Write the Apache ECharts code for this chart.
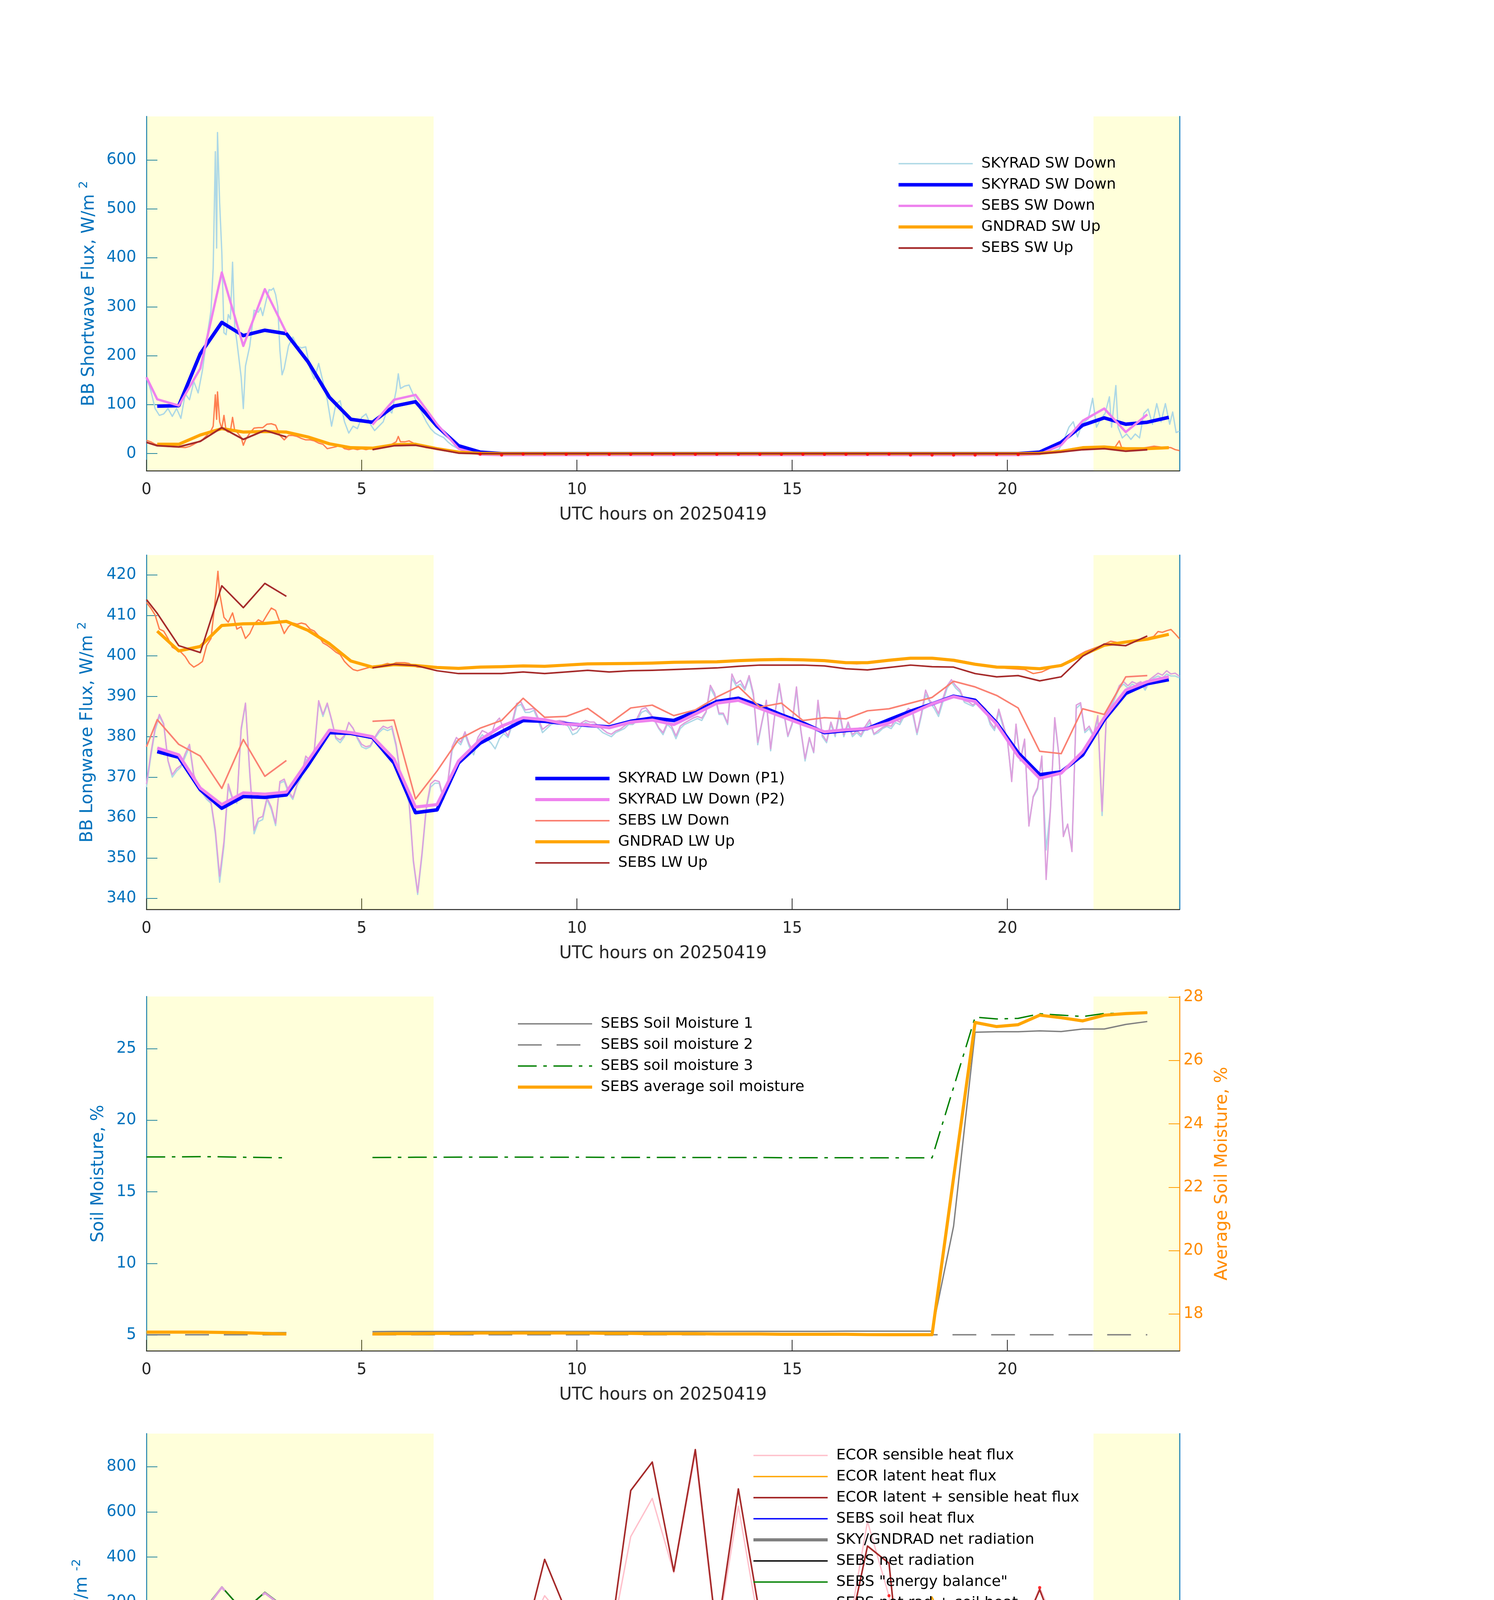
<!DOCTYPE html>
<html><head><meta charset="utf-8">
<script src="https://cdn.jsdelivr.net/npm/echarts@6/dist/echarts.min.js"></script>
<style>html,body{margin:0;padding:0;background:#fff}#c{width:3825px;height:4875px}</style>
</head><body><div id="c"></div>
<script>
// ---------------- DATA ----------------
const X_TICKS = [0, 5, 10, 15, 20];
const SW_TICKS = [0, 100, 200, 300, 400, 500, 600];
const LW_TICKS = [340, 350, 360, 370, 380, 390, 400, 410, 420];
const SM_TICKS = [5, 10, 15, 20, 25];
const SMAVG_TICKS = [18, 20, 22, 24, 26, 28];
const FLUX_TICKS = [-600, -400, -200, 0, 200, 400, 600, 800];
const SHADE = [[0, 6.67], [22.0, 24]];

const T30 = Array.from({length: 48}, (_, i) => 0.25 + 0.5 * i);
const SEBS_T = [0,0.25,0.75,1.25,1.75,2.25,2.75,3.25,4.25,5.25,5.75,6.25,6.75,7.25,7.75,8.25,8.75,9.25,9.75,10.25,10.75,11.25,11.75,12.25,12.75,13.25,13.75,14.25,14.75,15.25,15.75,16.25,16.75,17.25,17.75,18.25,18.75,19.25,19.75,20.25,20.75,21.25,21.75,22.25,22.75,23.25];
const ECOR_T = [0,0.75,1.25,1.75,2.25,2.75,3.25,4.75,6.25,6.75,7.25,7.75,8.25,8.75,9.25,9.75,10.25,10.75,11.25,11.75,12.25,12.75,13.25,13.75,14.25,14.75,15.25,15.75,16.25,16.75,17.25,17.75,18.25,18.75,19.25,19.75,20.25,20.75,21.25,21.75,22.25,22.75,23.25];

const SKY_SW_1MIN = [[0,156],[0.1,129],[0.2,92],[0.3,78],[0.4,81],[0.5,92],[0.6,76],[0.7,92],[0.8,72],[0.9,122],[1.0,110],[1.1,147],[1.2,124],[1.3,170],[1.4,234],[1.5,293],[1.55,380],[1.6,617],[1.63,420],[1.65,656],[1.7,512],[1.75,412],[1.8,247],[1.85,243],[1.9,284],[1.95,275],[2.0,391],[2.05,261],[2.1,229],[2.2,156],[2.25,92],[2.3,179],[2.4,220],[2.5,293],[2.6,289],[2.65,298],[2.7,282],[2.8,320],[2.85,335],[2.9,334],[2.95,338],[3.0,325],[3.05,300],[3.1,211],[3.15,161],[3.2,174],[3.3,220],[3.4,238],[3.5,220],[3.6,216],[3.7,218],[3.8,174],[3.9,152],[4.0,184],[4.1,147],[4.2,110],[4.3,56],[4.4,101],[4.5,108],[4.6,65],[4.7,42],[4.8,56],[4.9,51],[5.0,74],[5.1,81],[5.2,60],[5.3,47],[5.4,56],[5.5,65],[5.6,92],[5.7,83],[5.8,129],[5.85,163],[5.9,133],[6.0,138],[6.1,140],[6.2,120],[6.3,101],[6.4,83],[6.5,65],[6.6,51],[6.7,42],[6.8,37],[6.9,33],[7.0,24],[7.1,17],[7.2,12],[7.4,6],[7.6,2],[7.8,0.5],[8.0,0],[12,0],[16,0],[20.5,0],[20.8,1],[21.0,3],[21.2,9],[21.3,25],[21.43,54],[21.53,65],[21.63,34],[21.73,60],[21.88,71],[21.98,113],[22.07,54],[22.17,71],[22.27,82],[22.37,116],[22.42,54],[22.52,139],[22.57,54],[22.67,32],[22.77,40],[22.87,29],[22.97,40],[23.07,32],[23.17,82],[23.27,91],[23.37,60],[23.47,102],[23.57,65],[23.67,102],[23.77,60],[23.84,85],[23.92,43],[24.0,46]];
const GND_SW_1MIN = [[0,27],[0.1,24],[0.2,19],[0.3,17],[0.5,14.6],[0.7,13.7],[0.9,12.3],[1.0,14.6],[1.1,19],[1.2,24],[1.3,28],[1.4,37],[1.5,47],[1.55,56],[1.6,120],[1.63,70],[1.65,126],[1.7,65],[1.75,51],[1.8,78],[1.85,47],[1.9,44],[1.95,46],[2.0,74],[2.05,47],[2.1,44],[2.2,33],[2.25,17],[2.3,28],[2.4,42],[2.5,52],[2.6,53],[2.7,53],[2.8,60],[2.9,61],[3.0,58],[3.1,37],[3.2,28],[3.3,37],[3.4,37],[3.5,35],[3.6,31],[3.7,28],[3.8,28],[3.9,26],[4.0,21.5],[4.1,19],[4.2,10],[4.3,12],[4.4,14],[4.5,17],[4.6,10],[4.7,8],[4.8,10],[4.9,8],[5.0,10],[5.1,8],[5.2,10],[5.3,10],[5.4,12],[5.5,14.6],[5.6,17],[5.7,19],[5.8,24],[5.85,35],[5.9,24],[6.0,24],[6.1,26],[6.2,21.5],[6.3,17],[6.5,12],[6.7,10],[7.0,6.4],[7.3,3.7],[7.6,1.8],[8.0,0.3],[12,0],[16,0],[20.5,0],[21.0,2],[21.3,6],[21.5,10],[21.7,12],[21.9,13],[22.1,12],[22.3,14],[22.5,13],[22.6,26],[22.65,13],[22.8,8],[23.0,10],[23.2,12],[23.4,15],[23.6,13],[23.8,12],[23.9,8],[24,6]];
const SKY_SW_30 = [97,98,204,268,241,252,245,188,115,70,64,97,106,56,16,3, 0,0,0,0,0,0,0,0,0,0,0,0,0,0,0,0,0,0,0,0,0,0,0,0,0, 3,23,58,73,60,64,74];
const SEBS_SW_DOWN = [156,111,98,174,370,220,336,247,null, 59,110,120,60,10,-2, -3,-3,-3,-3,-3,-3,-3,-3,-3,-3,-3,-3,-3,-3,-3,-3,-3,-3,-3,-3,-3,-3,-3,-3,-3, -1,17.5,67,92,44,80];
const GND_SW_30 = [19,19,38,51,44,45,44,34,20,12,11,18,19,10,3,0.5, 0,0,0,0,0,0,0,0,0,0,0,0,0,0,0,0,0,0,0,0,0,0,0,0,0, 0.5,4.5,12,13.5,10,10,12];
const SEBS_SW_UP = [23,16,13.7,25,53,29,47.5,34,null, 8,16,17,9,1,0, 0,0,0,0,0,0,0,0,0,0,0,0,0,0,0,0,0,0,0,0,0,0,0,0,0, 0,3.4,8,10,5,8];
const SW_FLAG_DOTS = [[7.75,-1],[8.25,-3],[8.75,-1],[9.25,-1],[9.75,-1.5],[10.25,-2],[10.75,-1.5],[11.25,-1.5],[11.75,-1.5],[12.25,-1.5],[12.75,-1.5],[13.25,-1.5],[13.75,-1.5],[14.25,-1.5],[14.75,-1.5],[15.25,-1.5],[15.75,-1.5],[16.25,-1.5],[16.75,-1.5],[17.25,-1],[17.75,-3],[18.25,-3],[18.75,-3],[19.25,-3],[19.75,-2],[20.25,-2]];

const LW_1MIN_T0 = 0, LW_1MIN_STEP = 0.1;
const LW_P2_1MIN = [
368.3,375.8,382.1,385.5,383.2,374.1,370.6,372.1,372.9,375.8,
378.1,370.6,367.8,366.1,364.9,363.8,356.9,345.5,354.1,368.3,
364.9,363.8,382.1,388.3,371.2,356.9,359.8,360.3,364.9,362.6,
358.6,368.9,369.5,366.6,364.9,368.3,370.6,375.2,374.1,376.9,
388.9,385.5,388.3,384.3,379.8,379.2,380.3,383.5,382.1,379.8,
378.1,377.5,377.8,379.8,381.5,382.6,382.1,382.6,378.1,370.6,
368.3,364.3,349.5,341.5,351.2,362.6,368.3,369.2,368.9,364.9,
368.9,377.5,379.8,378.6,381.2,378.1,376.3,379.8,381.5,381.0,
380.2,383.4,384.6,381.8,380.2,383.8,388.2,388.6,386.6,386.8,
387.0,384.6,381.8,382.6,383.4,383.8,384.0,383.8,383.4,381.6,
382.0,383.4,384.0,383.6,383.6,382.6,381.8,381.0,380.6,381.4,
381.8,382.6,383.4,383.2,384.6,386.8,387.2,385.8,384.2,382.2,
381.0,383.4,382.6,380.2,382.6,383.4,384.0,384.6,385.0,384.6,
386.2,392.7,390.7,385.8,385.8,383.4,395.5,393.1,393.9,391.9,
395.1,390.7,378.6,383.8,389.0,377.0,385.8,393.1,386.6,380.2,
383.4,392.3,381.8,374.6,379.8,376.2,389.0,380.5,378.9,383.6,
380.5,386.3,380.5,383.6,380.5,381.5,380.5,382.6,384.2,380.7,
381.5,382.3,382.8,382.6,384.2,383.6,385.7,387.0,386.3,381.0,
385.7,391.5,388.9,387.8,385.7,389.4,392.6,394.1,392.6,391.5,
388.9,388.6,387.8,388.9,387.8,386.8,383.6,382.1,386.8,383.1,
379.4,368.9,383.1,374.2,379.4,357.9,365.2,367.4,375.2,344.7,
362.1,384.7,375.2,355.3,358.4,351.6,387.8,388.4,381.5,382.6,
380.5,385.2,361.6,385.7,387.8,390.0,392.6,393.6,392.6,393.6,
393.1,393.6,392.1,394.1,394.9,395.7,395.2,396.3,395.5,395.7,
394.9];
const LW_P1_1MIN = [
367.5,375.0,381.5,385.0,383.0,374.0,370.0,371.5,372.5,375.0,
377.5,370.0,367.5,366.0,364.5,363.5,356.0,344.0,353.0,367.5,
364.5,363.5,381.5,388.0,370.5,356.0,359.0,359.5,364.5,362.0,
358.0,368.5,369.0,366.0,364.5,368.0,370.0,374.5,373.5,376.5,
388.5,385.0,388.0,384.0,379.5,378.5,380.0,383.5,382.0,379.5,
377.5,377.0,377.5,379.5,381.0,382.0,381.5,382.0,377.5,370.0,
367.5,363.5,349.0,341.0,350.5,362.0,367.5,368.5,368.5,364.5,
368.5,376.5,379.0,378.0,380.5,377.5,375.5,379.0,380.5,379.5,
378.5,377.0,379.5,380.8,379.8,383.0,387.5,388.0,386.0,386.0,
386.5,384.0,381.0,382.0,383.0,383.5,383.5,383.5,382.5,380.5,
381.0,382.5,383.5,383.0,383.0,382.0,381.0,380.5,380.0,381.0,
381.5,382.0,383.0,383.0,384.0,386.0,386.5,385.5,384.0,382.0,
380.5,383.0,382.0,379.5,382.0,383.0,383.5,384.0,384.5,384.0,
386.0,392.0,390.0,385.5,385.5,383.0,394.5,392.5,393.0,391.5,
394.5,390.0,378.0,383.5,388.5,376.5,385.5,392.5,386.0,380.0,
383.0,391.5,381.5,374.0,379.5,376.0,388.0,380.0,378.5,383.0,
380.0,385.5,380.0,383.0,380.0,381.0,380.0,382.0,383.5,380.5,
381.0,382.0,382.5,382.0,383.5,383.0,385.0,386.5,385.5,380.5,
385.0,390.5,388.5,387.0,385.0,388.5,392.0,393.5,392.0,391.0,
388.5,388.0,387.5,388.5,387.5,386.5,383.0,381.5,386.0,382.5,
379.0,369.5,382.5,374.0,379.0,358.5,365.0,367.0,374.5,352.0,
362.0,384.0,375.0,356.0,358.0,352.5,387.0,388.0,381.0,382.0,
380.0,384.5,360.5,385.0,387.0,389.5,392.0,393.0,392.0,393.0,
392.5,393.0,391.5,393.5,394.5,395.0,394.5,395.5,395.0,395.0,
394.5];
const GND_LW_1MIN = [[0,413.2],[0.1,411.8],[0.2,410.1],[0.3,406.6],[0.4,406.1],[0.5,404.3],[0.6,402.1],[0.7,401.5],[0.8,400.9],[0.9,399.8],[1.0,398.1],[1.1,397.2],[1.2,397.8],[1.3,398.6],[1.4,402.6],[1.5,404.3],[1.6,414.1],[1.66,420.9],[1.7,415.5],[1.8,409.5],[1.9,408.3],[2.0,410.6],[2.1,406.6],[2.2,407.2],[2.3,404.3],[2.4,405.5],[2.5,407.8],[2.6,408.9],[2.7,408.3],[2.8,410.1],[2.9,411.8],[3.0,411.2],[3.1,408.3],[3.2,405.5],[3.3,407.2],[3.4,408.1],[3.5,407.8],[3.6,408.1],[3.7,407.8],[3.8,406.6],[3.9,406.1],[4.0,404.9],[4.1,403.2],[4.2,402.6],[4.3,401.8],[4.4,400.9],[4.5,400.3],[4.6,398.6],[4.7,397.5],[4.8,396.6],[4.9,396.3],[5.0,396.6],[5.1,396.9],[5.2,397.2],[5.3,397.5],[5.4,397.5],[5.5,397.8],[5.6,398.1],[5.7,397.8],[5.8,398.3],[5.9,398.3],[6.0,398.3],[6.1,398.1],[6.2,397.5],[6.3,397.2],[6.5,397.2],[7.0,397.0],[7.5,396.9],[8.0,397.2],[8.5,397.4],[9.0,397.4],[9.5,397.6],[10.0,397.9],[10.5,398.0],[11.0,398.1],[11.5,398.2],[12.0,398.3],[12.5,398.4],[13.0,398.5],[13.5,398.7],[14.0,398.9],[14.5,399.2],[15.0,399.2],[15.5,398.9],[16.0,398.4],[16.5,398.0],[17.0,398.5],[17.5,399.2],[18.0,399.6],[18.5,399.3],[19.0,398.6],[19.5,397.4],[20.0,396.9],[20.4,396.6],[20.6,395.6],[20.8,396.0],[21.0,397.0],[21.2,397.4],[21.4,398.4],[21.6,399.8],[21.8,401.0],[22.0,401.8],[22.2,402.6],[22.4,403.6],[22.6,403.2],[22.8,403.4],[23.0,403.6],[23.2,404.2],[23.4,404.8],[23.5,406.0],[23.6,405.8],[23.7,406.2],[23.8,406.5],[23.9,405.4],[24.0,404.2]];
const SKY_LW_P1_30 = [376.3,374.9,366.9,362.3,365.2,365.0,365.6,372.9,381.0,380.8,379.8,373.5,361.2,361.9,373.5,378.4,381.2,384.0,383.8,383.2,382.8,382.4,383.8,384.6,384.0,386.2,388.7,389.5,387.6,385.4,383.4,381.0,381.5,382.0,384.2,386.3,388.1,390.0,389.0,383.4,376.0,370.6,371.3,375.5,384.2,390.7,393.1,394.1];
const SKY_LW_P2_30 = [377.2,375.5,367.3,363.2,366.1,365.8,366.3,374.0,381.6,381.0,380.0,374.5,362.6,363.2,374.0,379.2,382.6,384.7,384.2,383.1,382.9,382.2,383.6,384.1,383.0,385.6,388.3,389.0,387.0,385.0,383.0,381.2,381.7,382.0,383.4,385.7,388.1,389.9,388.7,383.1,375.2,369.7,371.0,376.3,384.7,391.5,393.6,394.8];
const SEBS_LW_DOWN = [377.5,384.2,378.1,375.2,367.2,379.3,370.2,374.1,null,383.8,384.1,364.6,371.5,379.3,382.1,384.0,389.5,384.8,385.0,387.0,383.2,387.1,387.8,385.2,386.6,389.8,392.4,387.3,388.3,384.0,384.7,384.4,386.4,386.9,388.3,389.7,393.7,392.3,390.2,387.1,376.4,375.8,386.9,385.5,394.8,395.1];
const GND_LW_30 = [406.1,401.2,402.3,407.5,407.9,408.0,408.5,406.3,403.0,398.7,397.2,397.8,397.6,397.1,396.9,397.2,397.3,397.5,397.4,397.7,398.0,398.05,398.1,398.2,398.4,398.45,398.5,398.8,399.0,399.1,399.0,398.8,398.3,398.3,398.9,399.4,399.4,398.9,397.9,397.2,397.1,396.8,397.6,400.2,402.6,403.4,404.1,405.3];
const SEBS_LW_UP = [413.9,410.5,402.5,400.8,417.3,411.9,417.9,414.7,null,397.0,397.9,397.6,396.3,395.6,395.6,395.6,396.0,395.6,396.0,396.4,396.0,396.3,396.4,396.6,396.8,397.0,397.4,397.7,397.7,397.7,397.5,396.8,396.5,397.1,397.7,397.3,397.2,395.6,394.8,395.1,393.8,394.8,399.9,402.9,402.5,404.9];

const SM1 = [5.17,5.17,5.17,5.17,5.17,5.17,5.17,5.17,null,5.24,5.25,5.25,5.25,5.25,5.25,5.25,5.26,5.26,5.26,5.26,5.26,5.26,5.26,5.26,5.26,5.26,5.26,5.26,5.26,5.26,5.26,5.27,5.27,5.27,5.27,5.27,12.6,26.15,26.19,26.19,26.25,26.2,26.38,26.38,26.7,26.9];
const SM2 = [5.02,5.02,5.02,5.02,5.02,5.02,5.02,5.02,null,5.02,5.02,5.02,5.02,5.02,5.02,5.02,5.02,5.02,5.02,5.02,5.02,5.02,5.02,5.02,5.02,5.02,5.02,5.02,5.02,5.02,5.02,5.02,5.02,5.02,5.02,5.02,5.02,5.02,5.02,5.02,5.02,5.02,5.02,5.02,5.02,5.02];
const SM3 = [17.44,17.44,17.45,17.46,17.45,17.42,17.40,17.38,null,17.40,17.41,17.42,17.42,17.43,17.43,17.43,17.43,17.42,17.42,17.42,17.41,17.41,17.41,17.41,17.40,17.40,17.40,17.40,17.39,17.39,17.39,17.39,17.38,17.38,17.38,17.38,22.3,27.21,27.08,27.12,27.44,27.35,27.25,27.46,27.48,27.52];
const SM_AVG = [17.43,17.43,17.43,17.43,17.42,17.41,17.39,17.37,null,17.37,17.38,17.38,17.39,17.39,17.40,17.40,17.40,17.40,17.40,17.40,17.39,17.39,17.38,17.38,17.38,17.37,17.37,17.37,17.36,17.36,17.36,17.36,17.35,17.35,17.35,17.35,22.3,27.2,27.07,27.13,27.43,27.35,27.25,27.43,27.48,27.51];

const ECOR_H = [28,16,16,98,83,120,89,null,2,0,-2,-8,-6,28,229,113,34,-8,491,660,331,860,39,625,74,-232,9,18,10,558,227,-494,-30,-83,-21,-27,28,265,40,10,8,6,6];
const ECOR_LE = [34,22,104,46,32,29,16,null,46,15,2,0,10,-15,166,46,24,24,207,165,6,18,13,77,67,-2,40,10,-12,-112,146,-57,223,13,13,32,10,-8,-43,7,26,20,22];
const ECOR_SUM = [65,38,117,141,111,144,99,null,48,15,-2,-6,4,12,390,159,52,6,695,821,337,876,52,702,141,-234,49,28,-2,449,373,-551,193,-70,-8,3,34,256,4,12,34,24,26];
const SEBS_G = [-2,-2,-2,-2,-2,-3,-3,-3,null,-279,1,1,1,1,1,1,1,1,1,1,1,1,1,1,1,1,1,1,1,1,1,1,1,1,1,1,1,1,1,1,1,1,0,0,-1,-1];
const NET_RAD_30 = [50,56,122,176,155,166,162,124,76,41.5,36.6,58.5,55,22,-8.5,-18,-16,-13,-13,-14.6,-14.6,-17,-13,-13,-13,-12,-11,-10,-12,-14,-16,-17,-16,-15,-14,-14,-13,-11,-11,-14,-20,-24,-8.5,28,44,43,46,55];
const SEBS_RN = [97.6,71,61,140,268,160,244,172,null,36.6,83,71,28,-6,-15,-14,-13,-12,-12,-13,-14,-13,-12,-12,-11,-10,-9,-10,-11,-13,-14,-13,-13,-12,-12,-11,-8,-8,-9,-13,-19,-3,46,66,40,63];
const SEBS_EB = [97,65,61,146,268,160,244,172,null,-244,83,71,28,-6,-16,-15,-14,-13,-13,-14,-15,-14,-13,-13,-12,-11,-10,-11,-12,-14,-15,-14,-14,-13,-13,-12,-9,-9,-10,-14,-20,-4,46,66,37,63];
const SEBS_RN_G = [95.6,69,59,138,266,157,241,169,null,-242,84,72,29,-5,-14,-13,-12,-11,-11,-12,-13,-12,-11,-11,-10,-9,-8,-9,-10,-12,-13,-12,-12,-11,-11,-10,-7,-7,-8,-12,-18,-2,46,66,39,62];
const FLUX_FLAG_DOTS = [[5.25,-279],[7.75,-3],[15.25,49],[15.25,9],[15.75,28],[15.75,10],[17.25,229],[17.75,-551],[17.75,-494],[17.75,-57],[20.75,265],[20.75,-8],[21.25,40],[21.25,-43],[21.75,12]];

// ---------------- CHART ----------------
const FONT = 'DejaVu Sans';
const AXBLUE = '#0072BD';
const AXORANGE = '#FF8C00';
const TXT = '#262626';
const zip = (ts, vs) => ts.map((t, i) => [t, vs[i] == null ? '-' : vs[i]]);
const grid1min = (vs) => vs.map((v, i) => [+(LW_1MIN_T0 + i * LW_1MIN_STEP).toFixed(2), v]);

const TOPS = [298, 1421, 2551, 3670];
const grids = TOPS.map(t => ({left: 375, width: 2645, top: t, height: 907, containLabel: false}));

const xAxes = TOPS.map((_, i) => ({
  type: 'value', gridIndex: i, min: 0, max: 24,
  name: 'UTC hours on 20250419', nameLocation: 'middle', nameGap: 92,
  nameTextStyle: {fontSize: 44, color: TXT, fontFamily: FONT},
  axisLine: {onZero: false, lineStyle: {color: TXT, width: 2.5}},
  axisTick: {inside: true, length: 28, customValues: X_TICKS, lineStyle: {color: TXT, width: 2}},
  axisLabel: {customValues: X_TICKS, fontSize: 40, color: TXT, margin: 30, fontFamily: FONT},
  splitLine: {show: false}
}));

function supName(main, sup) { return '{a|' + main + '}{s|' + sup + '}'; }
const nameRich = (color) => ({
  a: {fontSize: 44, lineHeight: 52, verticalAlign: 'bottom', color, fontFamily: FONT},
  s: {fontSize: 31, lineHeight: 36, verticalAlign: 'top', color, fontFamily: FONT}
});

function leftAxis(gi, min, max, ticks, name, gap, rich) {
  return {
    type: 'value', gridIndex: gi, position: 'left', min, max,
    name, nameLocation: 'middle', nameRotate: 90, nameGap: gap,
    nameTextStyle: Object.assign({fontSize: 44, color: AXBLUE, fontFamily: FONT}, rich ? {rich: nameRich(AXBLUE)} : {}),
    axisLine: {show: true, onZero: false, lineStyle: {color: AXBLUE, width: 2.5}},
    axisTick: {show: true, inside: true, length: 28, customValues: ticks, lineStyle: {color: AXBLUE, width: 2}},
    axisLabel: {customValues: ticks, fontSize: 40, color: AXBLUE, margin: 26, fontFamily: FONT},
    splitLine: {show: false}
  };
}
function rightSpine(gi, min, max) {
  return {
    type: 'value', gridIndex: gi, position: 'right', min, max,
    axisLine: {show: true, onZero: false, lineStyle: {color: AXBLUE, width: 2.5}},
    axisTick: {show: false}, axisLabel: {show: false}, splitLine: {show: false}
  };
}

const yAxes = [
  leftAxis(0, -35, 689, SW_TICKS, supName('BB Shortwave Flux, W/m ', '2'), 124, true),
  rightSpine(0, -35, 689),
  leftAxis(1, 337.3, 424.9, LW_TICKS, supName('BB Longwave Flux, W/m ', '2'), 128, true),
  rightSpine(1, 337.3, 424.9),
  leftAxis(2, 3.9, 28.65, SM_TICKS, 'Soil Moisture, %', 100, false),
  {
    type: 'value', gridIndex: 2, position: 'right', min: 16.84, max: 28.02,
    name: 'Average Soil Moisture, %', nameLocation: 'middle', nameRotate: 90, nameGap: 88,
    nameTextStyle: {fontSize: 44, color: AXORANGE, fontFamily: FONT},
    axisLine: {show: true, onZero: false, lineStyle: {color: AXORANGE, width: 2.5}},
    axisTick: {show: true, inside: true, length: 28, customValues: SMAVG_TICKS, lineStyle: {color: AXORANGE, width: 2}},
    axisLabel: {customValues: SMAVG_TICKS, fontSize: 40, color: AXORANGE, margin: 10, fontFamily: FONT},
    splitLine: {show: false}
  },
  leftAxis(3, -622, 947, FLUX_TICKS, supName('Flux, W/m ', '-2'), 142, true),
  rightSpine(3, -622, 947)
];

const WIDTHS = {};
function line(name, gi, yi, data, color, width, extra) {
  WIDTHS[name] = width;
  const s = {
    type: 'line', name, xAxisIndex: gi, yAxisIndex: yi, data,
    symbol: 'none', showSymbol: false, connectNulls: false, silent: true,
    lineStyle: {color, width, cap: 'butt', join: 'round'},
    itemStyle: {color}, z: 3, animation: false
  };
  if (extra) {
    if (extra.type) s.lineStyle.type = extra.type;
    if (extra.z) s.z = extra.z;
  }
  return s;
}
function dots(name, gi, yi, data) {
  return {type: 'scatter', name, xAxisIndex: gi, yAxisIndex: yi, data, symbol: 'circle', symbolSize: 8,
    itemStyle: {color: '#FF0000'}, z: 9, silent: true, animation: false};
}
function shade(gi, yi) {
  return {
    type: 'line', name: 'shade' + gi, xAxisIndex: gi, yAxisIndex: yi, data: [], z: 20, silent: true,
    markArea: {silent: true, itemStyle: {color: 'rgba(255,255,0,0.145)'},
      data: SHADE.map(r => [{xAxis: r[0]}, {xAxis: r[1]}])}
  };
}

const series = [
  line('SKYRAD SW Down', 0, 0, SKY_SW_1MIN, '#ADD8E6', 3.5),
  line('GNDRAD SW Up 1min', 0, 0, GND_SW_1MIN, '#FF7F50', 3.5),
  line('SKYRAD SW Down\u200b', 0, 0, zip(T30, SKY_SW_30), '#0000FF', 9),
  line('SEBS SW Down', 0, 0, zip(SEBS_T, SEBS_SW_DOWN), '#EE82EE', 6),
  line('GNDRAD SW Up', 0, 0, zip(T30, GND_SW_30), '#FFA500', 8),
  line('SEBS SW Up', 0, 0, zip(SEBS_T, SEBS_SW_UP), '#A52A2A', 4.5),
  dots('sw flags', 0, 0, SW_FLAG_DOTS),
  shade(0, 0),
  line('SKYRAD LW Down (P1) 1min', 1, 2, grid1min(LW_P1_1MIN), '#ADD8E6', 3.5),
  line('SKYRAD LW Down (P2) 1min', 1, 2, grid1min(LW_P2_1MIN), '#DDA0DD', 3.5),
  line('GNDRAD LW Up 1min', 1, 2, GND_LW_1MIN, '#FF7F50', 3.5),
  line('SKYRAD LW Down (P1)', 1, 2, zip(T30, SKY_LW_P1_30), '#0000FF', 9),
  line('SKYRAD LW Down (P2)', 1, 2, zip(T30, SKY_LW_P2_30), '#EE82EE', 8),
  line('SEBS LW Down', 1, 2, zip(SEBS_T, SEBS_LW_DOWN), '#FA8072', 4),
  line('GNDRAD LW Up', 1, 2, zip(T30, GND_LW_30), '#FFA500', 8),
  line('SEBS LW Up', 1, 2, zip(SEBS_T, SEBS_LW_UP), '#A52A2A', 4),
  shade(1, 2),
  line('SEBS Soil Moisture 1', 2, 4, zip(SEBS_T, SM1), '#808080', 3.5),
  line('SEBS soil moisture 2', 2, 4, zip(SEBS_T, SM2), '#808080', 3.5, {type: [61, 38]}),
  line('SEBS soil moisture 3', 2, 4, zip(SEBS_T, SM3), '#008000', 3.5, {type: [48, 17, 9, 17]}),
  line('SEBS average soil moisture', 2, 5, zip(SEBS_T, SM_AVG), '#FFA500', 8),
  shade(2, 4),
  line('ECOR sensible heat flux', 3, 6, zip(ECOR_T, ECOR_H), '#FFC0CB', 3.5),
  line('ECOR latent heat flux', 3, 6, zip(ECOR_T, ECOR_LE), '#FFA500', 3.5),
  line('ECOR latent + sensible heat flux', 3, 6, zip(ECOR_T, ECOR_SUM), '#A52A2A', 4),
  line('SEBS soil heat flux', 3, 6, zip(SEBS_T, SEBS_G), '#0000FF', 3.5),
  line('SKY/GNDRAD net radiation', 3, 6, zip(T30, NET_RAD_30), '#808080', 8),
  line('SEBS net radiation', 3, 6, zip(SEBS_T, SEBS_RN), '#000000', 3.5),
  line('SEBS "energy balance"', 3, 6, zip(SEBS_T, SEBS_EB), '#008000', 3.5),
  line('SEBS net rad + soil heat', 3, 6, zip(SEBS_T, SEBS_RN_G), '#DDA0DD', 5.5, {type: [62, 38]}),
  dots('flux flags', 3, 6, FLUX_FLAG_DOTS),
  shade(3, 6)
];

function legend(names, left, top) {
  return {
    data: names.map(n => ({name: n, lineStyle: {width: WIDTHS[n]}})),
    left, top, orient: 'vertical', padding: 0, itemGap: 4,
    itemWidth: 190, itemHeight: 20, selectedMode: false,
    itemStyle: {opacity: 0},
    textStyle: {fontSize: 38, color: '#000', fontFamily: FONT, lineHeight: 50, padding: [0, 0, 0, 17]},
    z: 30
  };
}

const option = {
  backgroundColor: '#ffffff',
  animation: false,
  grid: grids,
  xAxis: xAxes,
  yAxis: yAxes,
  legend: [
    legend(['SKYRAD SW Down', 'SKYRAD SW Down\u200b', 'SEBS SW Down', 'GNDRAD SW Up', 'SEBS SW Up'], 2296, 394),
    legend(['SKYRAD LW Down (P1)', 'SKYRAD LW Down (P2)', 'SEBS LW Down', 'GNDRAD LW Up', 'SEBS LW Up'], 1366, 1968),
    legend(['SEBS Soil Moisture 1', 'SEBS soil moisture 2', 'SEBS soil moisture 3', 'SEBS average soil moisture'], 1322, 2596),
    legend(['ECOR sensible heat flux', 'ECOR latent heat flux', 'ECOR latent + sensible heat flux', 'SEBS soil heat flux', 'SKY/GNDRAD net radiation', 'SEBS net radiation', 'SEBS "energy balance"', 'SEBS net rad + soil heat'], 1925, 3701)
  ],
  series
};

const chart = echarts.init(document.getElementById('c'), null, {renderer: 'canvas', width: 3825, height: 4875});
chart.setOption(option);
</script></body></html>
